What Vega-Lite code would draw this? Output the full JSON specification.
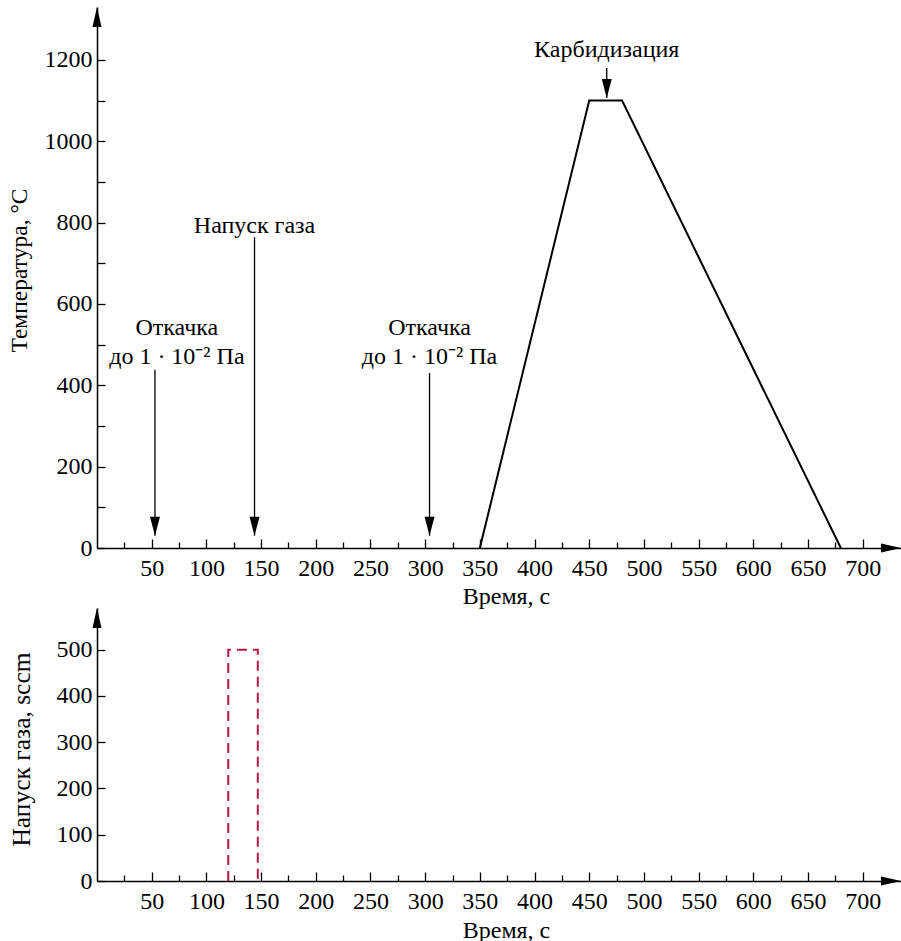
{
  "$schema": "https://vega.github.io/schema/vega-lite/v6.json",
  "padding": {"left": 7, "top": 7, "right": 0, "bottom": 0},
  "background": "white",
  "config": {
    "view": {"stroke": null},
    "font": "Liberation Serif",
    "axis": {
      "grid": false,
      "domainColor": "black",
      "domainWidth": 1.5,
      "tickColor": "black",
      "tickWidth": 1.3,
      "labelColor": "black",
      "labelFont": "Liberation Serif",
      "labelFontSize": 24,
      "titleColor": "black",
      "titleFont": "Liberation Serif",
      "titleFontSize": 24,
      "titleFontWeight": "normal",
      "labelOverlap": false,
      "labelFlush": false
    },
    "text": {"font": "Liberation Serif", "fontSize": 24, "color": "black"}
  },
  "datasets": {
    "temp": [
      {"t": 350, "v": 0},
      {"t": 450, "v": 1100},
      {"t": 480, "v": 1100},
      {"t": 680, "v": 0}
    ],
    "tarrows": [
      {"t": 53, "v": 438, "v2": 30},
      {"t": 144, "v": 764, "v2": 30},
      {"t": 304, "v": 430, "v2": 30},
      {"t": 466, "v": 1180, "v2": 1106}
    ],
    "tlabels": [
      {"t": 73, "v": 524, "label": "Откачка"},
      {"t": 73, "v": 452, "label": "до 1 · 10⁻² Па"},
      {"t": 144, "v": 774, "label": "Напуск газа"},
      {"t": 304, "v": 524, "label": "Откачка"},
      {"t": 304, "v": 452, "label": "до 1 · 10⁻² Па"},
      {"t": 466, "v": 1207, "label": "Карбидизация"}
    ],
    "taxes": [
      {"t": 0, "v": 1330, "dir": "up"},
      {"t": 735, "v": 0, "dir": "right"}
    ],
    "gas": [
      {"t": 120, "v": 0},
      {"t": 120, "v": 500},
      {"t": 147, "v": 500},
      {"t": 147, "v": 0}
    ],
    "gaxes": [
      {"t": 0, "v": 590, "dir": "up"},
      {"t": 735, "v": 0, "dir": "right"}
    ]
  },
  "vconcat": [
    {
      "width": 804,
      "height": 541,
      "resolve": {"axis": {"x": "independent"}},
      "layer": [
        {
          "data": {"name": "temp"},
          "mark": {"type": "line", "color": "black", "strokeWidth": 2},
          "encoding": {
            "x": {
              "field": "t", "type": "quantitative",
              "scale": {"domain": [0, 735], "nice": false, "zero": false},
              "axis": {
                "orient": "bottom",
                "title": "Время, с",
                "values": [50,100,150,200,250,300,350,400,450,500,550,600,650,700],
                "tickSize": -9,
                "labelPadding": 17,
                "titleX": 409,
                "titleY": 55,
                "titleBaseline": "alphabetic"
              }
            },
            "y": {
              "field": "v", "type": "quantitative",
              "scale": {"domain": [0, 1330], "nice": false},
              "axis": {
                "title": "Температура, °C",
                "titleFontSize": 23.5,
                "format": "d",
                "values": [0,100,200,300,400,500,600,700,800,900,1000,1100,1200],
                "labelExpr": "datum.value % 200 === 0 ? datum.label : ''",
                "tickSize": -8,
                "labelPadding": 13,
                "titleX": -78,
                "titleY": 263,
                "titleBaseline": "middle"
              }
            }
          }
        },
        {
          "data": {"name": "tarrows"},
          "mark": {"type": "rule", "color": "black", "strokeWidth": 1.3},
          "encoding": {
            "x": {"field": "t", "type": "quantitative", "axis": null},
            "y": {"field": "v", "type": "quantitative"},
            "y2": {"field": "v2"}
          }
        },
        {
          "data": {"name": "tarrows"},
          "mark": {"type": "point", "shape": "M-1,-3.8L1,-3.8L0,0Z", "filled": true, "color": "black", "opacity": 1, "size": 100, "strokeWidth": 0},
          "encoding": {
            "x": {"field": "t", "type": "quantitative", "axis": null},
            "y": {"field": "v2", "type": "quantitative"}
          }
        },
        {
          "data": {"name": "tlabels"},
          "mark": {"type": "text", "align": "center", "baseline": "alphabetic"},
          "encoding": {
            "x": {"field": "t", "type": "quantitative", "axis": null},
            "y": {"field": "v", "type": "quantitative"},
            "text": {"field": "label"}
          }
        },
        {
          "data": {"name": "taxes"},
          "mark": {"type": "point", "filled": true, "color": "black", "opacity": 1, "size": 100, "strokeWidth": 0},
          "encoding": {
            "x": {
              "field": "t", "type": "quantitative",
              "axis": {
                "orient": "bottom",
                "title": null,
                "domain": false,
                "labels": false,
                "values": [25,75,125,175,225,275,325,375,425,475,525,575,625,675],
                "tickSize": -6
              }
            },
            "y": {"field": "v", "type": "quantitative"},
            "shape": {
              "field": "dir", "type": "nominal",
              "scale": {"domain": ["up", "right"], "range": ["M0,0L0.9,4L-0.9,4Z", "M0,0L-4,-0.9L-4,0.9Z"]},
              "legend": null
            }
          }
        }
      ]
    },
    {
      "width": 804,
      "height": 273,
      "resolve": {"axis": {"x": "independent"}},
      "layer": [
        {
          "data": {"name": "gas"},
          "mark": {"type": "line", "color": "#b5163f", "strokeWidth": 2, "strokeDash": [10, 6]},
          "encoding": {
            "x": {
              "field": "t", "type": "quantitative",
              "scale": {"domain": [0, 735], "nice": false, "zero": false},
              "axis": {
                "orient": "bottom",
                "title": "Время, с",
                "values": [50,100,150,200,250,300,350,400,450,500,550,600,650,700],
                "tickSize": -9,
                "labelPadding": 17,
                "titleX": 409,
                "titleY": 56,
                "titleBaseline": "alphabetic"
              }
            },
            "y": {
              "field": "v", "type": "quantitative",
              "scale": {"domain": [0, 590], "nice": false},
              "axis": {
                "title": "Напуск газа, sccm",
                "titleFontSize": 25.5,
                "format": "d",
                "values": [0,50,100,150,200,250,300,350,400,450,500],
                "labelExpr": "datum.value % 100 === 0 ? datum.label : ''",
                "tickSize": -8,
                "labelPadding": 13,
                "titleX": -76,
                "titleY": 141,
                "titleBaseline": "middle"
              }
            }
          }
        },
        {
          "data": {"name": "gaxes"},
          "mark": {"type": "point", "filled": true, "color": "black", "opacity": 1, "size": 100, "strokeWidth": 0},
          "encoding": {
            "x": {
              "field": "t", "type": "quantitative",
              "axis": {
                "orient": "bottom",
                "title": null,
                "domain": false,
                "labels": false,
                "values": [25,75,125,175,225,275,325,375,425,475,525,575,625,675],
                "tickSize": -6
              }
            },
            "y": {"field": "v", "type": "quantitative"},
            "shape": {
              "field": "dir", "type": "nominal",
              "scale": {"domain": ["up", "right"], "range": ["M0,0L0.9,4L-0.9,4Z", "M0,0L-4,-0.9L-4,0.9Z"]},
              "legend": null
            }
          }
        }
      ]
    }
  ],
  "spacing": 60,
  "bounds": "flush"
}
